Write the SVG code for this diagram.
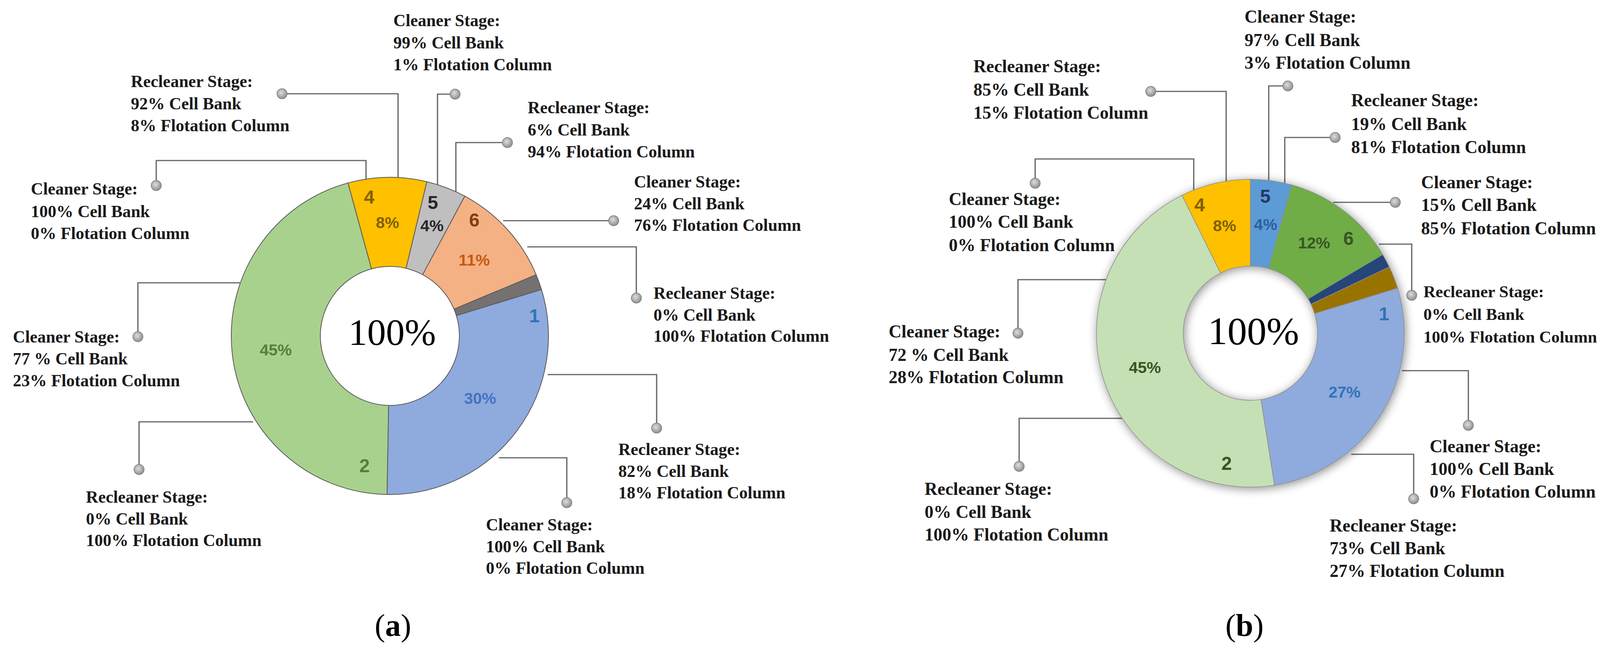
<svg xmlns="http://www.w3.org/2000/svg" width="4314" height="1659" viewBox="0 0 4314 1659">
<style>
.lbl{font-family:"Liberation Serif","Times New Roman",serif;font-weight:bold;fill:#1a1a1a}
.la{font-size:43.5px}
.lb{font-size:45.5px}
.lc{font-size:43px}
.lead{fill:none;stroke:#666;stroke-width:3.2}
.dot{fill:url(#dotg);stroke:#7a7a7a;stroke-width:1.5}
.sa{stroke:#595959;stroke-width:2;stroke-linejoin:round}
.sb{stroke:#8c8c8c;stroke-width:1.5;stroke-linejoin:round}
.dl{font-family:"Liberation Sans",Arial,sans-serif;font-weight:bold;text-anchor:middle}
.pc{font-size:41px}
.nm{font-size:48px}
.ctr{font-family:"Liberation Serif","Times New Roman",serif;text-anchor:middle;fill:#000}
.cap{font-family:"Liberation Serif","Times New Roman",serif;font-size:80px;text-anchor:middle;fill:#000}
</style>
<defs>
<radialGradient id="dotg" cx="0.42" cy="0.4" r="0.62">
<stop offset="0" stop-color="#dedede"/>
<stop offset="1" stop-color="#8c8c8c"/>
</radialGradient>
<filter id="sh" x="-20%" y="-20%" width="140%" height="140%">
<feGaussianBlur in="SourceAlpha" stdDeviation="12"/>
<feOffset dx="3" dy="4" result="o"/>
<feComponentTransfer><feFuncA type="linear" slope="0.45"/></feComponentTransfer>
<feMerge><feMergeNode/><feMergeNode in="SourceGraphic"/></feMerge>
</filter>
</defs>
<rect width="4314" height="1659" fill="#fff"/>

<g id="connectors">
<polyline class="lead" points="1019,455 1019,240 722,240"/>
<polyline class="lead" points="937,459 937,411 400,411 400,475"/>
<polyline class="lead" points="1120,473 1120,241 1165,241"/>
<polyline class="lead" points="1167,491 1167,365 1299,365"/>
<polyline class="lead" points="1288,565 1571,565"/>
<polyline class="lead" points="1350,632 1629,632 1629,763"/>
<polyline class="lead" points="1402,959 1681,959 1681,1096"/>
<polyline class="lead" points="1277,1172 1451,1172 1451,1287"/>
<polyline class="lead" points="614,724 353,724 353,862"/>
<polyline class="lead" points="648,1080 356,1080 356,1202"/>

<polyline class="lead" points="3139,464 3139,234 2946,234"/>
<polyline class="lead" points="3056,486 3056,407 2650,407 2650,469"/>
<polyline class="lead" points="3248,462 3248,220 3297,220"/>
<polyline class="lead" points="3289,469 3289,352 3418,352"/>
<polyline class="lead" points="3413,518 3572,518"/>
<polyline class="lead" points="3530,625 3614,625 3614,756"/>
<polyline class="lead" points="3589,949 3759,949 3759,1089"/>
<polyline class="lead" points="3459,1163 3619,1163 3619,1277"/>
<polyline class="lead" points="2831,716 2606,716 2606,853"/>
<polyline class="lead" points="2873,1071 2609,1071 2609,1194"/>
<g id="markers">
<circle class="dot" cx="722" cy="240" r="13"/>
<circle class="dot" cx="400" cy="475" r="13"/>
<circle class="dot" cx="1165" cy="241" r="13"/>
<circle class="dot" cx="1299" cy="365" r="13"/>
<circle class="dot" cx="1571" cy="565" r="13"/>
<circle class="dot" cx="1629" cy="763" r="13"/>
<circle class="dot" cx="1681" cy="1096" r="13"/>
<circle class="dot" cx="1451" cy="1287" r="13"/>
<circle class="dot" cx="353" cy="862" r="13"/>
<circle class="dot" cx="356" cy="1202" r="13"/>
<circle class="dot" cx="2946" cy="234" r="13"/>
<circle class="dot" cx="2650" cy="469" r="13"/>
<circle class="dot" cx="3297" cy="220" r="13"/>
<circle class="dot" cx="3418" cy="352" r="13"/>
<circle class="dot" cx="3572" cy="518" r="13"/>
<circle class="dot" cx="3614" cy="756" r="13"/>
<circle class="dot" cx="3759" cy="1089" r="13"/>
<circle class="dot" cx="3619" cy="1277" r="13"/>
<circle class="dot" cx="2606" cy="853" r="13"/>
<circle class="dot" cx="2609" cy="1194" r="13"/>
</g>
</g>

<g id="chart-a">
<path class="sa" fill="#A9D18E" d="M 990.91 1265.94 A 406 406 0 0 1 890.87 468.39 L 951.03 688.31 A 178 178 0 0 0 994.89 1037.97 Z"/>
<path class="sa" fill="#FFC000" d="M 890.87 468.39 A 406 406 0 0 1 1092.78 465.22 L 1039.55 686.92 A 178 178 0 0 0 951.03 688.31 Z"/>
<path class="sa" fill="#BFBFBF" d="M 1092.78 465.22 A 406 406 0 0 1 1189.86 502.19 L 1082.11 703.13 A 178 178 0 0 0 1039.55 686.92 Z"/>
<path class="sa" fill="#F4B183" d="M 1189.86 502.19 A 406 406 0 0 1 1372.55 703.32 L 1162.21 791.31 A 178 178 0 0 0 1082.11 703.13 Z"/>
<path class="sa" fill="#767171" d="M 1372.55 703.32 A 406 406 0 0 1 1386.26 741.30 L 1168.22 807.96 A 178 178 0 0 0 1162.21 791.31 Z"/>
<path class="sa" fill="#8FAADC" d="M 1386.26 741.30 A 406 406 0 0 1 990.91 1265.94 L 994.89 1037.97 A 178 178 0 0 0 1168.22 807.96 Z"/>
<text class="dl nm" x="945" y="521" fill="#7F6000">4</text>
<text class="dl pc" x="992" y="584" fill="#7F6000">8%</text>
<text class="dl nm" x="1108" y="535" fill="#262626">5</text>
<text class="dl pc" x="1106" y="592" fill="#262626">4%</text>
<text class="dl nm" x="1214" y="580" fill="#843C0C">6</text>
<text class="dl pc" x="1214" y="680" fill="#C55A11">11%</text>
<text class="dl nm" x="1368" y="825" fill="#2E75B6">1</text>
<text class="dl pc" x="1229" y="1034" fill="#4472C4">30%</text>
<text class="dl pc" x="706" y="910" fill="#548235">45%</text>
<text class="dl nm" x="933" y="1209" fill="#548235">2</text>
<text class="ctr" x="1004" y="883" font-size="96">100%</text>
</g>

<g id="chart-b">
<g filter="url(#sh)">
<path class="sb" fill="#FFC000" d="M 3025.81 500.09 A 394 394 0 0 1 3201 459 L 3201 681 A 172 172 0 0 0 3124.52 698.94 Z"/>
<path class="sb" fill="#5B9BD5" d="M 3201 459 A 394 394 0 0 1 3306.95 473.51 L 3247.25 687.34 A 172 172 0 0 0 3201 681 Z"/>
<path class="sb" fill="#70AD47" d="M 3306.95 473.51 A 394 394 0 0 1 3539.72 651.78 L 3348.87 765.16 A 172 172 0 0 0 3247.25 687.34 Z"/>
<path class="sb" fill="#264478" d="M 3539.72 651.78 A 394 394 0 0 1 3556.62 683.38 L 3356.25 778.95 A 172 172 0 0 0 3348.87 765.16 Z"/>
<path class="sb" fill="#997300" d="M 3556.62 683.38 A 394 394 0 0 1 3577.78 737.81 L 3365.48 802.71 A 172 172 0 0 0 3356.25 778.95 Z"/>
<path class="sb" fill="#8FAADC" d="M 3577.78 737.81 A 394 394 0 0 1 3262.63 1242.15 L 3227.91 1022.88 A 172 172 0 0 0 3365.48 802.71 Z"/>
<path class="sb" fill="#C5E0B4" d="M 3262.63 1242.15 A 394 394 0 0 1 3025.81 500.09 L 3124.52 698.94 A 172 172 0 0 0 3227.91 1022.88 Z"/>
</g>
<text class="dl nm" x="3071" y="541" fill="#7F6000">4</text>
<text class="dl pc" x="3135" y="592" fill="#7F6000">8%</text>
<text class="dl nm" x="3239" y="519" fill="#203864">5</text>
<text class="dl pc" x="3240" y="589" fill="#2E5E9E">4%</text>
<text class="dl pc" x="3364" y="636" fill="#375623">12%</text>
<text class="dl nm" x="3452" y="627" fill="#375623">6</text>
<text class="dl nm" x="3543" y="820" fill="#2E75B6">1</text>
<text class="dl pc" x="3442" y="1018" fill="#2E75B6">27%</text>
<text class="dl pc" x="2931" y="955" fill="#375623">45%</text>
<text class="dl nm" x="3140" y="1203" fill="#375623">2</text>
<text class="ctr" x="3209" y="881" font-size="100">100%</text>
</g>

<g id="label-a-4-recleaner"><text class="lbl la" x="335"><tspan x="335" y="223">Recleaner Stage:</tspan><tspan x="335" y="280">92% Cell Bank</tspan><tspan x="335" y="336">8% Flotation Column</tspan></text></g>
<g id="label-a-4-cleaner"><text class="lbl la" x="79"><tspan x="79" y="498">Cleaner Stage:</tspan><tspan x="79" y="556">100% Cell Bank</tspan><tspan x="79" y="612">0% Flotation Column</tspan></text></g>
<g id="label-a-5-cleaner"><text class="lbl la" x="1007"><tspan x="1007" y="67">Cleaner Stage:</tspan><tspan x="1007" y="124">99% Cell Bank</tspan><tspan x="1007" y="180">1% Flotation Column</tspan></text></g>
<g id="label-a-5-recleaner"><text class="lbl la" x="1351"><tspan x="1351" y="290">Recleaner Stage:</tspan><tspan x="1351" y="347">6% Cell Bank</tspan><tspan x="1351" y="403">94% Flotation Column</tspan></text></g>
<g id="label-a-6-cleaner"><text class="lbl la" x="1623"><tspan x="1623" y="480">Cleaner Stage:</tspan><tspan x="1623" y="536">24% Cell Bank</tspan><tspan x="1623" y="591">76% Flotation Column</tspan></text></g>
<g id="label-a-6-recleaner"><text class="lbl la" x="1673"><tspan x="1673" y="765">Recleaner Stage:</tspan><tspan x="1673" y="821">0% Cell Bank</tspan><tspan x="1673" y="875">100% Flotation Column</tspan></text></g>
<g id="label-a-1-recleaner"><text class="lbl la" x="1583"><tspan x="1583" y="1165">Recleaner Stage:</tspan><tspan x="1583" y="1221">82% Cell Bank</tspan><tspan x="1583" y="1276">18% Flotation Column</tspan></text></g>
<g id="label-a-1-cleaner"><text class="lbl la" x="1244"><tspan x="1244" y="1358">Cleaner Stage:</tspan><tspan x="1244" y="1414">100% Cell Bank</tspan><tspan x="1244" y="1469">0% Flotation Column</tspan></text></g>
<g id="label-a-2-cleaner"><text class="lbl la" x="33"><tspan x="33" y="877">Cleaner Stage:</tspan><tspan x="33" y="933">77 % Cell Bank</tspan><tspan x="33" y="989">23% Flotation Column</tspan></text></g>
<g id="label-a-2-recleaner"><text class="lbl la" x="220"><tspan x="220" y="1287">Recleaner Stage:</tspan><tspan x="220" y="1343">0% Cell Bank</tspan><tspan x="220" y="1398">100% Flotation Column</tspan></text></g>

<g id="label-b-4-recleaner"><text class="lbl lb" x="2492"><tspan x="2492" y="185">Recleaner Stage:</tspan><tspan x="2492" y="245">85% Cell Bank</tspan><tspan x="2492" y="304">15% Flotation Column</tspan></text></g>
<g id="label-b-4-cleaner"><text class="lbl lb" x="2429"><tspan x="2429" y="525">Cleaner Stage:</tspan><tspan x="2429" y="583">100% Cell Bank</tspan><tspan x="2429" y="643">0% Flotation Column</tspan></text></g>
<g id="label-b-5-cleaner"><text class="lbl lb" x="3186"><tspan x="3186" y="58">Cleaner Stage:</tspan><tspan x="3186" y="118">97% Cell Bank</tspan><tspan x="3186" y="176">3% Flotation Column</tspan></text></g>
<g id="label-b-5-recleaner"><text class="lbl lb" x="3459"><tspan x="3459" y="272">Recleaner Stage:</tspan><tspan x="3459" y="333">19% Cell Bank</tspan><tspan x="3459" y="392">81% Flotation Column</tspan></text></g>
<g id="label-b-6-cleaner"><text class="lbl lb" x="3638"><tspan x="3638" y="482">Cleaner Stage:</tspan><tspan x="3638" y="540">15% Cell Bank</tspan><tspan x="3638" y="600">85% Flotation Column</tspan></text></g>
<g id="label-b-6-recleaner"><text class="lbl lc" x="3644"><tspan x="3644" y="761">Recleaner Stage:</tspan><tspan x="3644" y="819">0% Cell Bank</tspan><tspan x="3644" y="877">100% Flotation Column</tspan></text></g>
<g id="label-b-1-cleaner"><text class="lbl lb" x="3660"><tspan x="3660" y="1158">Cleaner Stage:</tspan><tspan x="3660" y="1216">100% Cell Bank</tspan><tspan x="3660" y="1274">0% Flotation Column</tspan></text></g>
<g id="label-b-1-recleaner"><text class="lbl lb" x="3404"><tspan x="3404" y="1361">Recleaner Stage:</tspan><tspan x="3404" y="1419">73% Cell Bank</tspan><tspan x="3404" y="1477">27% Flotation Column</tspan></text></g>
<g id="label-b-2-cleaner"><text class="lbl lb" x="2275"><tspan x="2275" y="864">Cleaner Stage:</tspan><tspan x="2275" y="924">72 % Cell Bank</tspan><tspan x="2275" y="981">28% Flotation Column</tspan></text></g>
<g id="label-b-2-recleaner"><text class="lbl lb" x="2367"><tspan x="2367" y="1267">Recleaner Stage:</tspan><tspan x="2367" y="1326">0% Cell Bank</tspan><tspan x="2367" y="1384">100% Flotation Column</tspan></text></g>

<g id="caption-a"><text class="cap" x="1006" y="1628">(<tspan font-weight="bold">a</tspan>)</text></g>
<g id="caption-b"><text class="cap" x="3186" y="1628">(<tspan font-weight="bold">b</tspan>)</text></g>
</svg>
